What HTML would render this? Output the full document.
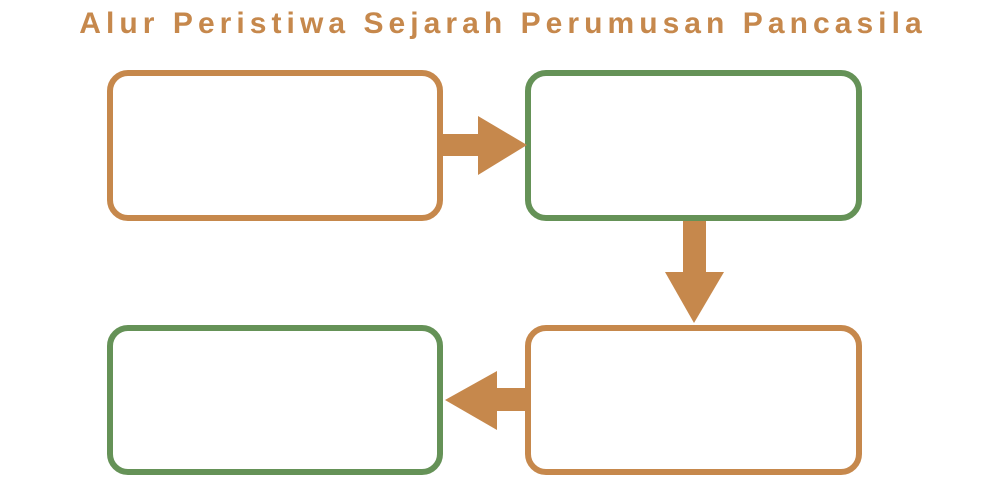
<!DOCTYPE html>
<html><head><meta charset="utf-8"><style>
html,body{margin:0;padding:0;background:#fff;width:1000px;height:500px;overflow:hidden}
.t{position:absolute;left:3px;top:7px;width:1000px;text-align:center;font-family:"Liberation Sans",sans-serif;font-weight:bold;font-size:30px;letter-spacing:5.05px;color:#c6884c;white-space:nowrap}
</style></head><body>
<div class="t">Alur Peristiwa Sejarah Perumusan Pancasila</div>
<svg width="1000" height="500" style="position:absolute;left:0;top:0">
<g fill="none" stroke-width="6">
<rect x="110" y="73" width="330" height="145" rx="18" stroke="#c6884c"/>
<rect x="528" y="73" width="331" height="145" rx="18" stroke="#659257"/>
<rect x="528" y="328" width="331" height="144" rx="18" stroke="#c6884c"/>
<rect x="110" y="328" width="330" height="144" rx="18" stroke="#659257"/>
</g>
<g fill="#c6884c">
<rect x="443" y="134" width="37" height="22"/>
<polygon points="478,116 527,145 478,175"/>
<rect x="683" y="221" width="23" height="52"/>
<polygon points="665,272 724,272 694,323"/>
<rect x="495" y="388" width="35" height="23"/>
<polygon points="497,371 497,430 445,400"/>
</g>
</svg>
</body></html>
